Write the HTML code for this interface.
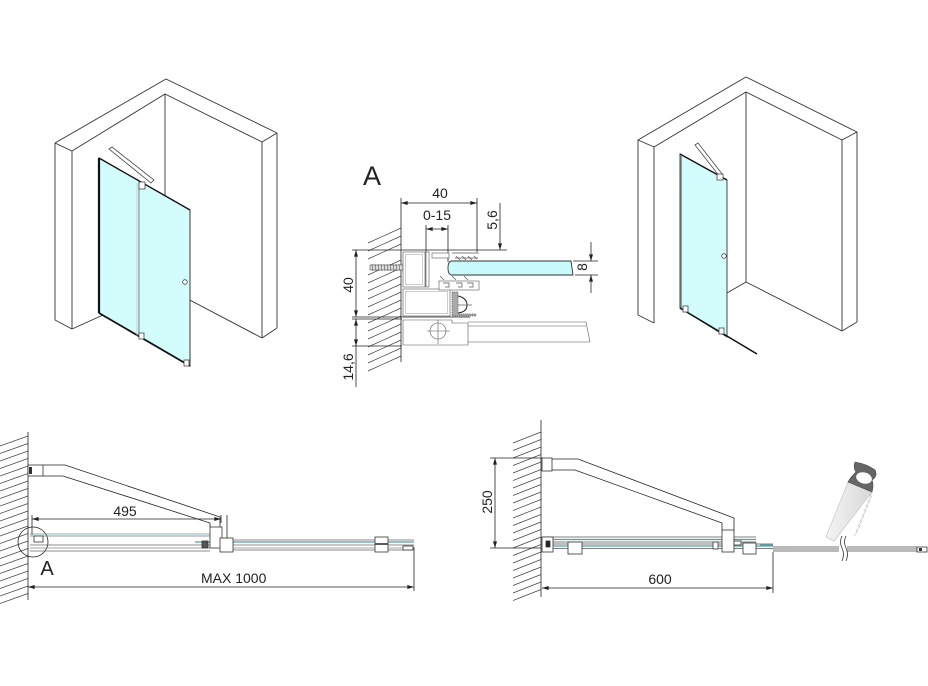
<!DOCTYPE html>
<html><head><meta charset="utf-8"><style>
html,body{margin:0;padding:0;background:#fff;}
svg{display:block;}
text{font-family:"Liberation Sans",sans-serif;fill:#222;}
</style></head><body>
<svg width="928" height="686" viewBox="0 0 928 686" xmlns="http://www.w3.org/2000/svg">
<defs>
<marker id="ar" viewBox="0 0 10 6" refX="10" refY="3" markerWidth="7" markerHeight="4" orient="auto-start-reverse" markerUnits="userSpaceOnUse"><path d="M0 0 L10 3 L0 6 Z" fill="#222"/></marker>
<linearGradient id="blade" x1="0" y1="0" x2="1" y2="0"><stop offset="0" stop-color="#f4f4f4"/><stop offset="1" stop-color="#d8d8d8"/></linearGradient>
</defs>

<!-- ============ LEFT ISO ============ -->
<g stroke="#333" stroke-width="0.9" fill="none">
<polyline points="55,143 166,79 277,133"/>
<polyline points="72,151 165,94 262,142"/>
<line x1="55" y1="143" x2="72" y2="151"/>
<line x1="262" y1="142" x2="277" y2="133"/>
<line x1="55" y1="143" x2="55" y2="320"/>
<line x1="72" y1="151" x2="72" y2="329"/>
<line x1="55" y1="320" x2="72" y2="329"/>
<line x1="277" y1="133" x2="277" y2="328"/>
<line x1="262" y1="142" x2="262" y2="338"/>
<line x1="262" y1="338" x2="277" y2="328"/>
<line x1="165" y1="94" x2="165" y2="287"/>
<line x1="165" y1="287" x2="262" y2="338"/>
<line x1="165" y1="287" x2="72" y2="329"/>
</g>
<polygon points="99,158 190,210 190,366 99,313" fill="#d3fdfd" stroke="#222" stroke-width="0.9"/>
<line x1="99" y1="158" x2="99" y2="313" stroke="#111" stroke-width="2.2"/>
<line x1="99" y1="158" x2="190" y2="210" stroke="#111" stroke-width="1.3"/>
<line x1="99" y1="313" x2="190" y2="366" stroke="#111" stroke-width="1.8"/>
<line x1="139" y1="183" x2="139" y2="337" stroke="#777" stroke-width="0.9"/>
<line x1="137" y1="183" x2="137" y2="336" stroke="#bbb" stroke-width="0.6"/>
<circle cx="185" cy="282" r="2.3" fill="#fff" stroke="#444" stroke-width="0.8"/>
<g stroke="#444" stroke-width="0.8" fill="#fff">
<polygon points="109,149 112,147 154,180 151,183"/>
<rect x="139" y="182" width="6" height="7"/>
<rect x="139" y="333" width="5" height="6"/>
<rect x="184" y="360" width="5" height="6"/>
</g>

<!-- ============ RIGHT ISO ============ -->
<g stroke="#333" stroke-width="0.9" fill="none">
<polyline points="638,140 746,77 857,132"/>
<polyline points="654,147 746,92 842,140"/>
<line x1="638" y1="140" x2="654" y2="147"/>
<line x1="842" y1="140" x2="857" y2="132"/>
<line x1="638" y1="140" x2="638" y2="315"/>
<line x1="654" y1="147" x2="654" y2="323"/>
<line x1="638" y1="315" x2="654" y2="323"/>
<line x1="857" y1="132" x2="857" y2="322"/>
<line x1="842" y1="140" x2="842" y2="331"/>
<line x1="842" y1="331" x2="857" y2="322"/>
<line x1="746" y1="92" x2="746" y2="282"/>
<line x1="746" y1="282" x2="842" y2="331"/>
<line x1="746" y1="282" x2="727" y2="293"/>
</g>
<polygon points="680,154 727,180 727,337 680,308" fill="#d3fdfd" stroke="#333" stroke-width="0.9"/>
<line x1="681" y1="156" x2="681" y2="308" stroke="#777" stroke-width="1.4"/>
<line x1="680" y1="154" x2="727" y2="180" stroke="#111" stroke-width="1.4"/>
<line x1="680" y1="308" x2="757" y2="354" stroke="#111" stroke-width="1.6"/>
<circle cx="724" cy="256" r="2.3" fill="#fff" stroke="#444" stroke-width="0.8"/>
<g stroke="#444" stroke-width="0.8" fill="#fff">
<polygon points="695,145 698,143 723,175 720,177"/>
<rect x="717" y="174" width="6" height="6"/>
<rect x="683" y="306" width="5" height="6"/>
<rect x="719" y="328" width="5" height="6"/>
</g>

<!-- ============ DETAIL A ============ -->
<text x="372" y="185" font-size="27" text-anchor="middle">A</text>
<g stroke="#444" stroke-width="0.7">
<line x1="368" y1="243" x2="401" y2="228"/>
<line x1="368" y1="251" x2="401" y2="236"/>
<line x1="368" y1="259" x2="401" y2="244"/>
<line x1="368" y1="275" x2="401" y2="260"/>
<line x1="368" y1="283" x2="401" y2="268"/>
<line x1="368" y1="291" x2="401" y2="276"/>
<line x1="368" y1="299" x2="401" y2="284"/>
<line x1="368" y1="307" x2="401" y2="292"/>
<line x1="368" y1="315" x2="401" y2="300"/>
<line x1="368" y1="323" x2="401" y2="308"/>
<line x1="368" y1="331" x2="401" y2="316"/>
<line x1="368" y1="339" x2="401" y2="324"/>
<line x1="368" y1="347" x2="401" y2="332"/>
<line x1="368" y1="355" x2="401" y2="340"/>
<line x1="368" y1="363" x2="401" y2="348"/>
<line x1="368" y1="371" x2="401" y2="356"/>
</g>
<g stroke="#222" stroke-width="0.8" fill="none">
<line x1="401" y1="198" x2="401" y2="362"/>
<line x1="401" y1="203" x2="477" y2="203" marker-start="url(#ar)" marker-end="url(#ar)"/>
<line x1="477" y1="198" x2="477" y2="252"/>
<line x1="426" y1="229" x2="448" y2="229" marker-start="url(#ar)" marker-end="url(#ar)"/>
<line x1="426" y1="225" x2="426" y2="287"/>
<line x1="448" y1="225" x2="448" y2="262"/>
<line x1="500" y1="203" x2="500" y2="250" marker-end="url(#ar)"/>
<line x1="500" y1="274" x2="500" y2="261" marker-end="url(#ar)"/>
<line x1="352" y1="250" x2="507" y2="250"/>
<line x1="591" y1="242" x2="591" y2="261" marker-end="url(#ar)"/>
<line x1="591" y1="293" x2="591" y2="275" marker-end="url(#ar)"/>
<line x1="573" y1="261" x2="598" y2="261"/>
<line x1="575" y1="275" x2="598" y2="275"/>
<line x1="356" y1="250" x2="356" y2="317" marker-start="url(#ar)" marker-end="url(#ar)"/>
<line x1="352" y1="317" x2="470" y2="317"/>
<line x1="352" y1="319" x2="402" y2="319"/>
<line x1="356" y1="319" x2="356" y2="346" marker-start="url(#ar)" marker-end="url(#ar)"/>
<line x1="356" y1="346" x2="356" y2="387"/>
<line x1="352" y1="346" x2="402" y2="346"/>
</g>
<text x="440" y="198" font-size="14" text-anchor="middle">40</text>
<text x="437" y="220" font-size="14" text-anchor="middle">0-15</text>
<text transform="translate(497,220) rotate(-90)" font-size="14" text-anchor="middle">5,6</text>
<text transform="translate(587,267) rotate(-90)" font-size="14" text-anchor="middle">8</text>
<text transform="translate(353,285) rotate(-90)" font-size="14" text-anchor="middle">40</text>
<text transform="translate(353,367) rotate(-90)" font-size="14" text-anchor="middle">14,6</text>
<!-- screw -->
<g stroke="#555" stroke-width="0.6">
<rect x="370" y="265" width="33" height="5" fill="#ddd"/>
<path d="M372 264 l1 7 M375 264 l1 7 M378 264 l1 7 M381 264 l1 7 M384 264 l1 7 M387 264 l1 7 M390 264 l1 7 M393 264 l1 7 M396 264 l1 7 M399 264 l1 7" fill="none"/>
<path d="M403 262 q5 0 5 5 q0 5 -5 5 Z" fill="#fff"/>
</g>
<!-- glass -->
<path d="M452 261 H571 L573 275 H452 Q448 275 448 268 Q448 261 452 261 Z" fill="#c8fafc" stroke="#333" stroke-width="0.9"/>
<!-- profile -->
<g stroke="#555" stroke-width="0.6" fill="#fff">
<rect x="403" y="252" width="22" height="35"/>
<rect x="426" y="252" width="3" height="35"/>
<rect x="432" y="253" width="17" height="5"/>
<rect x="403" y="289" width="47" height="27"/>
<rect x="439" y="281" width="40" height="9"/>
<path d="M403 320 H452 V323 H468 V345 H403 Z"/>
<line x1="468" y1="322" x2="586" y2="322"/>
<line x1="468" y1="326" x2="586" y2="326"/>
<line x1="468" y1="342" x2="590" y2="342"/>
<line x1="586" y1="322" x2="590" y2="342"/>
<circle cx="438" cy="331" r="8"/>
<line x1="427" y1="331" x2="450" y2="331"/>
<line x1="438" y1="320" x2="438" y2="344"/>
</g>
<g stroke="#999" stroke-width="0.5" fill="none">
<rect x="405.5" y="254.5" width="17" height="30"/>
<rect x="405.5" y="291.5" width="42" height="22"/>
</g>
<g stroke="#555" stroke-width="0.7" fill="none">
<path d="M443 283 h6 v4 h-4 M456 283 h6 v4 h-4 M467 283 h6 v4 h-4"/>
<path d="M456 256 l4 4 M462 256 l4 4 M468 256 l4 4 M474 256 l3 3"/>
<line x1="452" y1="253" x2="479" y2="253"/>
<line x1="455" y1="258" x2="478" y2="258"/>
<path d="M440 276 l4 4 M452 276 l4 4 M464 276 l4 4"/>
<path d="M452 292 h6 v22 h18 v2 h-24 Z" fill="#aaa" stroke-dasharray="1.2 1"/>
<path d="M458 296 q9 2 9 9 q0 7 -9 8" stroke="#222" stroke-width="1"/>
<line x1="458" y1="305" x2="472" y2="305"/>
</g>

<!-- ============ BOTTOM LEFT PLAN ============ -->
<g stroke="#444" stroke-width="0.7">
<line x1="0" y1="446" x2="28" y2="436"/>
<line x1="0" y1="453.5" x2="28" y2="443.5"/>
<line x1="0" y1="461" x2="28" y2="451"/>
<line x1="0" y1="468.5" x2="28" y2="458.5"/>
<line x1="0" y1="476" x2="28" y2="466"/>
<line x1="0" y1="483.5" x2="28" y2="473.5"/>
<line x1="0" y1="491" x2="28" y2="481"/>
<line x1="0" y1="498.5" x2="28" y2="488.5"/>
<line x1="0" y1="506" x2="28" y2="496"/>
<line x1="0" y1="513.5" x2="28" y2="503.5"/>
<line x1="0" y1="521" x2="28" y2="511"/>
<line x1="0" y1="528.5" x2="28" y2="518.5"/>
<line x1="0" y1="536" x2="28" y2="526"/>
<line x1="0" y1="543.5" x2="28" y2="533.5"/>
<line x1="0" y1="551" x2="28" y2="541"/>
<line x1="0" y1="558.5" x2="28" y2="548.5"/>
<line x1="0" y1="566" x2="28" y2="556"/>
<line x1="0" y1="573.5" x2="28" y2="563.5"/>
<line x1="0" y1="581" x2="28" y2="571"/>
<line x1="0" y1="588.5" x2="28" y2="578.5"/>
<line x1="0" y1="596" x2="28" y2="586"/>
<line x1="0" y1="603.5" x2="28" y2="593.5"/>
</g>
<g stroke="#222" stroke-width="0.8" fill="none">
<line x1="28" y1="432" x2="28" y2="600"/>
<polyline points="43,465 65,465 220,517 220,527"/>
<polyline points="43,476 63,476 210,523 210,527"/>
<line x1="32" y1="519" x2="221" y2="519" marker-start="url(#ar)" marker-end="url(#ar)"/>
<line x1="32" y1="515" x2="32" y2="535"/>
<line x1="221" y1="515" x2="221" y2="523"/>
<line x1="227" y1="515" x2="227" y2="538"/>
<line x1="28" y1="587" x2="414" y2="587" marker-start="url(#ar)" marker-end="url(#ar)"/>
<line x1="414" y1="547" x2="414" y2="591"/>
<circle cx="33" cy="542" r="15"/>
</g>
<rect x="28" y="465" width="15" height="11" fill="#fff" stroke="#333" stroke-width="0.8"/>
<rect x="29" y="467" width="3" height="7" fill="#333"/>
<g stroke-width="0.8">
<line x1="30" y1="534" x2="210" y2="534" stroke="#5a9ea0"/>
<line x1="30" y1="536" x2="210" y2="536" stroke="#777"/>
<line x1="30" y1="545" x2="210" y2="545" stroke="#666"/>
<line x1="30" y1="548" x2="210" y2="548" stroke="#888"/>
<line x1="30" y1="551" x2="210" y2="551" stroke="#666"/>
<line x1="195" y1="542" x2="414" y2="542" stroke="#5a9ea0" stroke-width="1.2"/>
<line x1="222" y1="540" x2="414" y2="540" stroke="#666"/>
<line x1="222" y1="545" x2="414" y2="545" stroke="#666"/>
<line x1="222" y1="548" x2="414" y2="548" stroke="#888"/>
<line x1="222" y1="550" x2="414" y2="550" stroke="#666"/>
</g>
<g stroke="#333" stroke-width="0.8" fill="#fff">
<rect x="34" y="536" width="9" height="6"/>
<rect x="210" y="527" width="12" height="21"/>
<rect x="202" y="541" width="6" height="7" fill="#555"/>
<rect x="220" y="538" width="13" height="14"/>
<rect x="375" y="537" width="13" height="15"/>
<line x1="375" y1="544" x2="388" y2="544" stroke-width="1.6"/>
<rect x="403" y="546" width="10" height="4"/>
</g>
<text x="125" y="516" font-size="14" text-anchor="middle">495</text>
<text x="47" y="575" font-size="20" text-anchor="middle">A</text>
<text x="201" y="583" font-size="14">MAX 1000</text>

<!-- ============ BOTTOM RIGHT PLAN ============ -->
<g stroke="#444" stroke-width="0.7">
<line x1="513" y1="443" x2="541" y2="432"/>
<line x1="513" y1="450.5" x2="541" y2="439.5"/>
<line x1="513" y1="458" x2="541" y2="447"/>
<line x1="513" y1="465.5" x2="541" y2="454.5"/>
<line x1="513" y1="473" x2="541" y2="462"/>
<line x1="513" y1="480.5" x2="541" y2="469.5"/>
<line x1="513" y1="488" x2="541" y2="477"/>
<line x1="513" y1="495.5" x2="541" y2="484.5"/>
<line x1="513" y1="503" x2="541" y2="492"/>
<line x1="513" y1="510.5" x2="541" y2="499.5"/>
<line x1="513" y1="518" x2="541" y2="507"/>
<line x1="513" y1="525.5" x2="541" y2="514.5"/>
<line x1="513" y1="533" x2="541" y2="522"/>
<line x1="513" y1="540.5" x2="541" y2="529.5"/>
<line x1="513" y1="548" x2="541" y2="537"/>
<line x1="513" y1="555.5" x2="541" y2="544.5"/>
<line x1="513" y1="563" x2="541" y2="552"/>
<line x1="513" y1="570.5" x2="541" y2="559.5"/>
<line x1="513" y1="578" x2="541" y2="567"/>
<line x1="513" y1="585.5" x2="541" y2="574.5"/>
<line x1="513" y1="593" x2="541" y2="582"/>
<line x1="513" y1="600.5" x2="541" y2="589.5"/>
</g>
<g stroke="#222" stroke-width="0.8" fill="none">
<line x1="541" y1="420" x2="541" y2="597"/>
<line x1="495" y1="458" x2="495" y2="548" marker-start="url(#ar)" marker-end="url(#ar)"/>
<line x1="490" y1="458" x2="543" y2="458"/>
<line x1="490" y1="548" x2="541" y2="548"/>
<polyline points="552,459 578,459 734,518 734,530"/>
<polyline points="552,470 575,470 722,523 722,530"/>
<line x1="542" y1="588" x2="773" y2="588" marker-start="url(#ar)" marker-end="url(#ar)"/>
<line x1="773" y1="552" x2="773" y2="593"/>
</g>
<rect x="542" y="458" width="10" height="13" fill="#fff" stroke="#333" stroke-width="0.8"/>
<g stroke-width="0.8">
<line x1="542" y1="537" x2="756" y2="537" stroke="#555"/>
<line x1="542" y1="539.5" x2="756" y2="539.5" stroke="#5a9ea0" stroke-width="1.2"/>
<line x1="542" y1="542" x2="756" y2="542" stroke="#555"/>
<line x1="542" y1="544" x2="773" y2="544" stroke="#555"/>
<line x1="542" y1="546" x2="773" y2="546" stroke="#5a9ea0" stroke-width="1.2"/>
<line x1="542" y1="548.5" x2="773" y2="548.5" stroke="#555"/>
<line x1="760" y1="545" x2="773" y2="545" stroke="#5a9ea0" stroke-width="1.6"/>
</g>
<g stroke="#333" stroke-width="0.8" fill="#fff">
<rect x="542" y="537" width="11" height="15"/>
<rect x="546" y="541" width="4" height="6" fill="#222"/>
<rect x="568" y="542" width="14" height="12"/>
<rect x="713" y="542" width="5" height="7"/>
<rect x="722" y="530" width="12" height="22"/>
<rect x="734" y="541" width="7" height="4"/>
<rect x="743" y="543" width="13" height="11"/>
</g>
<g stroke="#444" stroke-width="0.8">
<line x1="773" y1="547" x2="917" y2="547"/>
<line x1="773" y1="551" x2="917" y2="551"/>
<line x1="773" y1="549" x2="917" y2="549" stroke="#bbb" stroke-width="2"/>
</g>
<rect x="839" y="536" width="8" height="26" fill="#fff"/>
<g stroke="#333" stroke-width="0.8" fill="none">
<path d="M842 536 q-3 6 0 12 q3 6 0 13"/>
<path d="M846 536 q-3 6 0 12 q3 6 0 13"/>
</g>
<rect x="917" y="547" width="10" height="5" fill="#fff" stroke="#333" stroke-width="0.8"/>
<rect x="919" y="548" width="3" height="3" fill="#333"/>
<!-- saw -->
<polygon points="848,482 872,492 834,541 826,537" fill="url(#blade)" stroke="#c8c8c8" stroke-width="0.7"/>
<path d="M872 492 l-2 4 l2 0 l-4 5 l2 0 l-4 5 l2 0 l-4 5 l2 0 l-4 5 l2 0 l-4 5 l2 0 l-4 5 l2 0 l-4 5 l2 0 l-4 5" fill="none" stroke="#bbb" stroke-width="0.6"/>
<path d="M855 462 q-2 6 1 10 q-6 6 -8 10 l24 10 q2 -8 0 -12 q6 -4 3 -10 q-8 -6 -20 -8 Z" fill="#666" stroke="#444" stroke-width="0.6"/>
<ellipse cx="864" cy="478" rx="8" ry="5.5" fill="#fff" transform="rotate(15 864 478)"/>
<text x="660" y="584" font-size="14" text-anchor="middle">600</text>
<text transform="translate(492,502) rotate(-90)" font-size="14" text-anchor="middle">250</text>
</svg>
</body></html>
